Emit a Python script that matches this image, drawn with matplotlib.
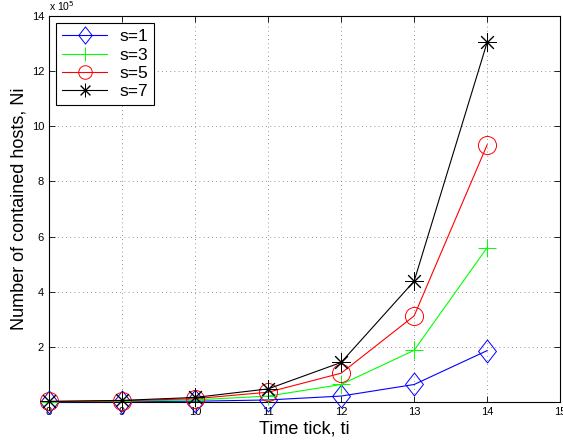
import numpy as np
import matplotlib
matplotlib.use("Agg")
import matplotlib.pyplot as plt
from matplotlib.path import Path

plt.rcParams['font.family'] = ['Liberation Sans', 'DejaVu Sans']

# time ticks and contained hosts (units of 1e5)
ticks = [8, 9, 10, 11, 12, 13, 14]
s1 = [0.0025, 0.008, 0.023, 0.069, 0.21, 0.63, 1.86]
s3 = [0.008, 0.023, 0.07, 0.21, 0.63, 1.87, 5.6]
s5 = [0.013, 0.038, 0.115, 0.35, 1.04, 3.12, 9.33]
s7 = [0.017, 0.053, 0.16, 0.47, 1.43, 4.38, 13.05]
labels = ['s=1', 's=3', 's=5', 's=7']

# tall diamond like matlab's
diamond = Path([(0, 1), (0.78, 0), (0, -1), (-0.78, 0), (0, 1)],
               [Path.MOVETO, Path.LINETO, Path.LINETO, Path.LINETO, Path.CLOSEPOLY])

fig = plt.figure(figsize=(5.63, 4.48), dpi=100)
ax = fig.add_axes([0.087, 0.103, 0.908, 0.861])

styles = [
    (s1, 'b', diamond, 16.5),
    (s3, '#00ff00', '+', 13),
    (s5, 'r', 'o', 13),
    (s7, 'k', (8, 2, 0), 13),
]
for (vals, c, m, ms), lab in zip(styles, labels):
    ax.plot(ticks, vals, color=c, marker=m, markersize=ms, markerfacecolor='none',
            markeredgecolor=c, markeredgewidth=0.7, linewidth=0.8, label=lab,
            clip_on=False, zorder=3)

ax.set_xlim(8, 15)
ax.set_ylim(0, 14)
ax.set_xticks(range(8, 16))
ax.set_yticks(range(2, 15, 2))
ax.tick_params(direction='in', top=True, right=True, labelsize=8, length=4, width=0.6)
ax.grid(True, linestyle=(0, (1, 4)), color='0.45', linewidth=0.6)
for sp in ax.spines.values():
    sp.set_linewidth(0.8)

ax.text(0.0, 1.008, r'x 10$^5$', transform=ax.transAxes, fontsize=7.5, va='bottom', ha='left')

ax.set_xlabel('Time tick, ti', fontsize=13, labelpad=3)
ax.set_ylabel('Number of contained hosts, Ni', fontsize=13, labelpad=3)

leg = ax.legend(loc='upper left', fontsize=12.5, fancybox=False, framealpha=1,
                edgecolor='k', markerscale=0.75, borderaxespad=0.4, handlelength=2.6,
                labelspacing=0.18, handletextpad=0.7, borderpad=0.35)
leg.get_frame().set_linewidth(0.8)

fig.savefig('out.png', dpi=100)
